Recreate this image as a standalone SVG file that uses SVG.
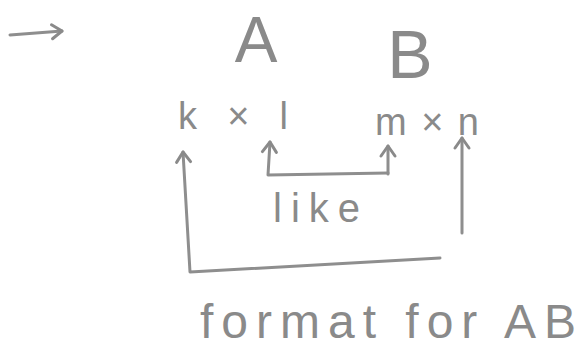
<svg xmlns="http://www.w3.org/2000/svg" width="581" height="350" viewBox="0 0 581 350">
<defs>
<marker id="head" markerUnits="userSpaceOnUse" markerWidth="20" markerHeight="20" refX="0" refY="0" orient="auto" overflow="visible">
<path d="M-10,-7 L0,0 L-10,7" fill="none" stroke="#8a8a8a" stroke-width="3" stroke-linecap="round" stroke-linejoin="round"/>
</marker>
</defs>
<style>
.t{font-family:"Liberation Sans","DejaVu Sans",sans-serif;fill:#8a8a8a;}
.c{fill:none;stroke:#8e8e8e;stroke-width:3;stroke-linecap:round;stroke-linejoin:round;marker-end:url(#head);}
</style>
<rect width="581" height="350" fill="#ffffff"/>
<g id="connectors">
<path class="c" d="M10,35 L62,31"/>
<path class="c" d="M388,173 L268,175 L270,142"/>
<path class="c" d="M388,174 L388,146"/>
<path class="c" d="M440,258 L190,272 L183,152"/>
<path class="c" d="M462,233 L462,138"/>
</g>
<g id="nodeA"><text class="t" x="256" y="62" font-size="64" text-anchor="middle">A</text></g>
<g id="nodeB"><text class="t" x="410" y="78" font-size="68" text-anchor="middle">B</text></g>
<g id="nodeKL"><text class="t" x="178" y="129" font-size="38" textLength="110" lengthAdjust="spacing">k×l</text></g>
<g id="nodeMN"><text class="t" x="375" y="135" font-size="38" textLength="104" lengthAdjust="spacing">m×n</text></g>
<g id="labelLike"><text class="t" x="273" y="222" font-size="40" textLength="87" lengthAdjust="spacing">like</text></g>
<g id="caption"><text class="t" x="200" y="338" font-size="48" textLength="376" lengthAdjust="spacing">format for AB</text></g>
</svg>
